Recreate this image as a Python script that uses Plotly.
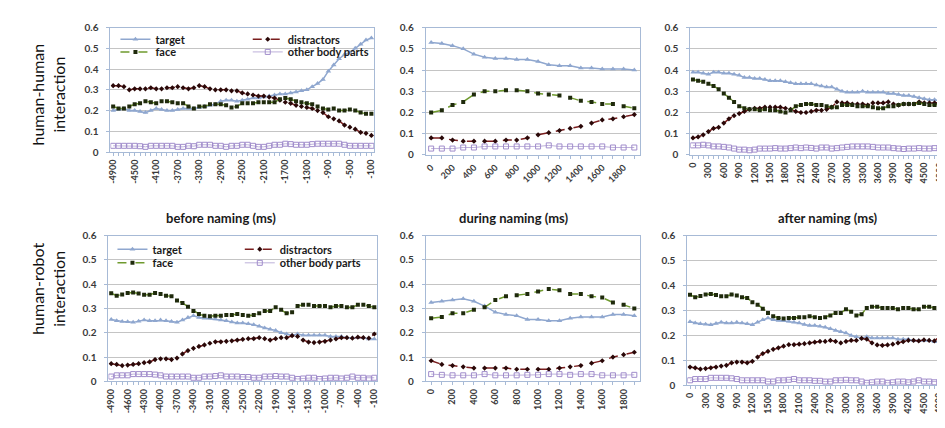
import plotly.graph_objects as go

W, H = 945, 428
FONT = "Lato, Open Sans, sans-serif"

# ---------------- categories (ms) ----------------
before_ms = list(range(-4900, 0, 100))   # 49 categories
during_ms = list(range(0, 2000, 100))    # 20 categories
after_ms = list(range(0, 4900, 100))     # 49 categories

before_ticks_hh = [-4900, -4500, -4100, -3700, -3300, -2900, -2500, -2100, -1700, -1300, -900, -500, -100]
before_ticks_hr = [-4900, -4600, -4300, -4000, -3700, -3400, -3100, -2800, -2500, -2200, -1900, -1600, -1300, -1000, -700, -400, -100]
during_ticks = [0, 200, 400, 600, 800, 1000, 1200, 1400, 1600, 1800]
after_ticks = [0, 300, 600, 900, 1200, 1500, 1800, 2100, 2400, 2700, 3000, 3300, 3600, 3900, 4200, 4500, 4800]

series_names = ["target", "distractors", "face", "other body parts"]

# ---------------- human-human : before naming ----------------
hh_before_target = [0.20, 0.205, 0.21, 0.20, 0.20, 0.195, 0.19, 0.20, 0.21, 0.205,
                    0.20, 0.20, 0.205, 0.21, 0.21, 0.21, 0.215, 0.22, 0.225, 0.23,
                    0.245, 0.25, 0.25, 0.245, 0.25, 0.255, 0.26, 0.26, 0.265, 0.27,
                    0.275, 0.28, 0.28, 0.285, 0.29, 0.295, 0.30, 0.315, 0.33, 0.35,
                    0.39, 0.42, 0.45, 0.47, 0.48, 0.50, 0.52, 0.54, 0.55]
hh_before_distractors = [0.32, 0.32, 0.315, 0.30, 0.305, 0.305, 0.305, 0.31, 0.305, 0.305,
                         0.31, 0.31, 0.315, 0.31, 0.305, 0.31, 0.32, 0.315, 0.305, 0.30,
                         0.30, 0.30, 0.295, 0.295, 0.285, 0.28, 0.275, 0.27, 0.27, 0.265,
                         0.26, 0.25, 0.24, 0.235, 0.225, 0.22, 0.215, 0.21, 0.20, 0.19,
                         0.17, 0.16, 0.15, 0.13, 0.12, 0.11, 0.095, 0.09, 0.08]
hh_before_face = [0.22, 0.21, 0.21, 0.22, 0.23, 0.235, 0.245, 0.24, 0.235, 0.245,
                  0.245, 0.24, 0.235, 0.235, 0.22, 0.21, 0.22, 0.22, 0.23, 0.23,
                  0.23, 0.225, 0.215, 0.22, 0.235, 0.235, 0.235, 0.24, 0.24, 0.24,
                  0.24, 0.255, 0.26, 0.255, 0.245, 0.24, 0.235, 0.23, 0.22, 0.21,
                  0.205, 0.21, 0.20, 0.20, 0.205, 0.20, 0.19, 0.185, 0.185]
hh_before_other = [0.03, 0.03, 0.03, 0.03, 0.03, 0.028, 0.025, 0.03, 0.03, 0.03,
                   0.03, 0.03, 0.025, 0.025, 0.03, 0.028, 0.035, 0.035, 0.035, 0.03,
                   0.03, 0.025, 0.03, 0.03, 0.035, 0.035, 0.03, 0.025, 0.025, 0.03,
                   0.035, 0.035, 0.04, 0.038, 0.035, 0.035, 0.035, 0.038, 0.04, 0.04,
                   0.04, 0.04, 0.04, 0.035, 0.03, 0.03, 0.03, 0.03, 0.03]

# ---------------- human-human : during naming ----------------
hh_during_target = [0.53, 0.525, 0.515, 0.50, 0.475, 0.46, 0.455, 0.455, 0.45, 0.45,
                    0.44, 0.425, 0.42, 0.42, 0.41, 0.41, 0.405, 0.405, 0.405, 0.40]
hh_during_distractors = [0.08, 0.08, 0.07, 0.065, 0.065, 0.065, 0.065, 0.07, 0.07, 0.08,
                         0.095, 0.105, 0.115, 0.125, 0.135, 0.15, 0.165, 0.17, 0.18, 0.19]
hh_during_face = [0.20, 0.21, 0.235, 0.25, 0.285, 0.30, 0.30, 0.305, 0.305, 0.30,
                  0.29, 0.285, 0.28, 0.27, 0.255, 0.25, 0.24, 0.24, 0.23, 0.22]
hh_during_other = [0.03, 0.03, 0.03, 0.035, 0.035, 0.04, 0.04, 0.04, 0.04, 0.04,
                   0.04, 0.045, 0.04, 0.04, 0.04, 0.04, 0.04, 0.035, 0.035, 0.035]

# ---------------- human-human : after naming ----------------
hh_after_target = [0.39, 0.39, 0.385, 0.38, 0.39, 0.39, 0.385, 0.385, 0.38, 0.375,
                   0.365, 0.365, 0.36, 0.36, 0.355, 0.35, 0.35, 0.35, 0.345, 0.34,
                   0.335, 0.335, 0.335, 0.335, 0.33, 0.325, 0.32, 0.32, 0.31, 0.30,
                   0.295, 0.295, 0.295, 0.30, 0.295, 0.295, 0.295, 0.295, 0.29, 0.29,
                   0.285, 0.28, 0.28, 0.275, 0.27, 0.265, 0.26, 0.26, 0.255]
hh_after_distractors = [0.08, 0.085, 0.095, 0.11, 0.125, 0.13, 0.15, 0.17, 0.185, 0.195,
                        0.205, 0.215, 0.22, 0.22, 0.225, 0.225, 0.225, 0.225, 0.22, 0.215,
                        0.205, 0.20, 0.20, 0.205, 0.21, 0.21, 0.215, 0.225, 0.25, 0.245,
                        0.245, 0.24, 0.24, 0.24, 0.235, 0.245, 0.245, 0.245, 0.25, 0.24,
                        0.235, 0.24, 0.24, 0.24, 0.25, 0.245, 0.245, 0.245, 0.245]
hh_after_face = [0.355, 0.35, 0.345, 0.335, 0.325, 0.31, 0.29, 0.27, 0.25, 0.23,
                 0.22, 0.215, 0.215, 0.21, 0.215, 0.21, 0.21, 0.205, 0.20, 0.21,
                 0.23, 0.235, 0.24, 0.24, 0.235, 0.235, 0.23, 0.225, 0.225, 0.235,
                 0.235, 0.235, 0.23, 0.23, 0.23, 0.225, 0.22, 0.22, 0.23, 0.23,
                 0.235, 0.24, 0.24, 0.24, 0.245, 0.24, 0.235, 0.235, 0.24]
hh_after_other = [0.045, 0.045, 0.048, 0.045, 0.04, 0.04, 0.038, 0.035, 0.03, 0.025,
                  0.025, 0.022, 0.025, 0.03, 0.03, 0.03, 0.032, 0.03, 0.03, 0.032,
                  0.035, 0.032, 0.035, 0.033, 0.03, 0.035, 0.035, 0.03, 0.032, 0.035,
                  0.038, 0.04, 0.04, 0.04, 0.04, 0.038, 0.035, 0.035, 0.035, 0.032,
                  0.03, 0.028, 0.03, 0.03, 0.032, 0.03, 0.03, 0.032, 0.03]

# ---------------- human-robot : before naming ----------------
hr_before_target = [0.255, 0.25, 0.247, 0.245, 0.243, 0.248, 0.253, 0.25, 0.25, 0.253,
                    0.25, 0.247, 0.243, 0.253, 0.263, 0.27, 0.263, 0.26, 0.26, 0.257,
                    0.253, 0.25, 0.244, 0.24, 0.24, 0.237, 0.233, 0.227, 0.22, 0.215,
                    0.21, 0.20, 0.195, 0.19, 0.195, 0.19, 0.19, 0.19, 0.19, 0.19,
                    0.185, 0.185, 0.185, 0.18, 0.18, 0.18, 0.18, 0.175, 0.175]
hr_before_distractors = [0.073, 0.07, 0.065, 0.067, 0.07, 0.073, 0.077, 0.08, 0.09, 0.093,
                         0.093, 0.09, 0.096, 0.113, 0.127, 0.136, 0.144, 0.15, 0.157, 0.163,
                         0.163, 0.165, 0.167, 0.17, 0.173, 0.176, 0.176, 0.18, 0.176, 0.17,
                         0.176, 0.18, 0.18, 0.188, 0.185, 0.17, 0.162, 0.16, 0.162, 0.165,
                         0.17, 0.175, 0.18, 0.18, 0.178, 0.182, 0.18, 0.178, 0.195]
hr_before_face = [0.363, 0.353, 0.358, 0.364, 0.366, 0.362, 0.357, 0.357, 0.364, 0.36,
                  0.353, 0.35, 0.333, 0.323, 0.307, 0.29, 0.277, 0.27, 0.268, 0.27,
                  0.27, 0.273, 0.273, 0.277, 0.273, 0.27, 0.273, 0.28, 0.29, 0.29,
                  0.305, 0.295, 0.28, 0.285, 0.31, 0.315, 0.315, 0.31, 0.31, 0.31,
                  0.305, 0.31, 0.31, 0.305, 0.305, 0.315, 0.315, 0.31, 0.305]
hr_before_other = [0.02, 0.025, 0.025, 0.025, 0.03, 0.03, 0.03, 0.03, 0.028, 0.025,
                   0.02, 0.02, 0.02, 0.02, 0.02, 0.015, 0.015, 0.02, 0.02, 0.022,
                   0.025, 0.02, 0.02, 0.02, 0.018, 0.018, 0.015, 0.015, 0.02, 0.02,
                   0.022, 0.02, 0.02, 0.015, 0.01, 0.012, 0.015, 0.015, 0.01, 0.012,
                   0.015, 0.015, 0.012, 0.015, 0.02, 0.015, 0.015, 0.012, 0.015]

# ---------------- human-robot : during naming ----------------
hr_during_target = [0.325, 0.33, 0.335, 0.34, 0.33, 0.31, 0.285, 0.275, 0.27, 0.255,
                    0.255, 0.25, 0.25, 0.26, 0.265, 0.265, 0.265, 0.275, 0.275, 0.27]
hr_during_distractors = [0.085, 0.07, 0.065, 0.06, 0.055, 0.055, 0.055, 0.055, 0.05, 0.05,
                         0.05, 0.05, 0.055, 0.06, 0.065, 0.075, 0.085, 0.10, 0.11, 0.12]
hr_during_face = [0.26, 0.265, 0.28, 0.28, 0.295, 0.305, 0.335, 0.35, 0.355, 0.36,
                  0.37, 0.38, 0.375, 0.36, 0.36, 0.35, 0.345, 0.325, 0.315, 0.30]
hr_during_other = [0.03, 0.027, 0.025, 0.025, 0.025, 0.03, 0.025, 0.025, 0.025, 0.027,
                   0.027, 0.03, 0.03, 0.027, 0.03, 0.03, 0.025, 0.025, 0.025, 0.027]

# ---------------- human-robot : after naming ----------------
hr_after_target = [0.255, 0.25, 0.247, 0.245, 0.243, 0.248, 0.253, 0.25, 0.25, 0.253,
                   0.25, 0.247, 0.243, 0.253, 0.263, 0.27, 0.263, 0.26, 0.26, 0.257,
                   0.253, 0.25, 0.244, 0.24, 0.24, 0.237, 0.233, 0.227, 0.22, 0.215,
                   0.21, 0.20, 0.195, 0.19, 0.195, 0.19, 0.19, 0.19, 0.19, 0.19,
                   0.185, 0.185, 0.185, 0.18, 0.18, 0.18, 0.18, 0.175, 0.175]
hr_after_distractors = [0.073, 0.07, 0.065, 0.067, 0.07, 0.073, 0.077, 0.08, 0.09, 0.093,
                        0.093, 0.09, 0.096, 0.113, 0.127, 0.136, 0.144, 0.15, 0.157, 0.163,
                        0.163, 0.165, 0.167, 0.17, 0.173, 0.176, 0.176, 0.18, 0.176, 0.17,
                        0.176, 0.18, 0.18, 0.188, 0.185, 0.17, 0.162, 0.16, 0.162, 0.165,
                        0.17, 0.175, 0.18, 0.18, 0.178, 0.182, 0.18, 0.178, 0.195]
hr_after_face = [0.363, 0.353, 0.358, 0.364, 0.366, 0.362, 0.357, 0.357, 0.364, 0.36,
                 0.353, 0.35, 0.333, 0.323, 0.307, 0.29, 0.277, 0.27, 0.268, 0.27,
                 0.27, 0.273, 0.273, 0.277, 0.273, 0.27, 0.273, 0.28, 0.29, 0.29,
                 0.305, 0.295, 0.28, 0.285, 0.31, 0.315, 0.315, 0.31, 0.31, 0.31,
                 0.305, 0.31, 0.31, 0.305, 0.305, 0.315, 0.315, 0.31, 0.305]
hr_after_other = [0.02, 0.025, 0.025, 0.025, 0.03, 0.03, 0.03, 0.03, 0.028, 0.025,
                  0.02, 0.02, 0.02, 0.02, 0.02, 0.015, 0.015, 0.02, 0.02, 0.022,
                  0.025, 0.02, 0.02, 0.02, 0.018, 0.018, 0.015, 0.015, 0.02, 0.02,
                  0.022, 0.02, 0.02, 0.015, 0.01, 0.012, 0.015, 0.015, 0.01, 0.012,
                  0.015, 0.015, 0.012, 0.015, 0.02, 0.015, 0.015, 0.012, 0.015]

# ---------------- styling ----------------
STYLE = {
    "target": dict(line=dict(color="#8FA7CF", width=1.5, dash="solid"),
                   marker=dict(symbol="triangle-up", size=5, color="#8FA7CF")),
    "distractors": dict(line=dict(color="#7A1E1E", width=1.5, dash="dash"),
                        marker=dict(symbol="diamond", size=4, color="#2A0808")),
    "face": dict(line=dict(color="#6F9A2E", width=1.5, dash="dash"),
                 marker=dict(symbol="square", size=4, color="#1F2A0C")),
    "other body parts": dict(line=dict(color="#BDB0DA", width=1, dash="solid"),
                             marker=dict(symbol="square-open", size=5, color="#A08CCB",
                                         line=dict(width=1))),
}

# one single-entry legend per key so rows can sit as close as in the original
# (left px of legend box, vertical centre px)
LEGEND_POS = {
    1: {"target": ("legend", 105, 26), "distractors": ("legend2", 238, 26),
        "face": ("legend3", 105, 39), "other body parts": ("legend4", 238, 39)},
    4: {"target": ("legend5", 102, 242), "distractors": ("legend6", 230, 242),
        "face": ("legend7", 102, 256), "other body parts": ("legend8", 230, 256)},
}


def px_x(p):
    return p / W


def px_y(p):
    return 1 - p / H


panels = [
    dict(x=before_ms, ys=[hh_before_target, hh_before_distractors, hh_before_face, hh_before_other],
         box=(100, 365, 14, 142), rng=[-4950, -50], ticks=before_ticks_hh, angle=-90),
    dict(x=during_ms, ys=[hh_during_target, hh_during_distractors, hh_during_face, hh_during_other],
         box=(417, 632, 14, 145), rng=[-50, 1950], ticks=during_ticks, angle=-45),
    dict(x=after_ms, ys=[hh_after_target, hh_after_distractors, hh_after_face, hh_after_other],
         box=(683, 945, 14, 145), rng=[-50, 5020], ticks=after_ticks, angle=-90),
    dict(x=before_ms, ys=[hr_before_target, hr_before_distractors, hr_before_face, hr_before_other],
         box=(98, 368, 228, 378), rng=[-4950, -50], ticks=before_ticks_hr, angle=-90),
    dict(x=during_ms, ys=[hr_during_target, hr_during_distractors, hr_during_face, hr_during_other],
         box=(417, 632, 228, 378), rng=[-50, 1950], ticks=during_ticks, angle=-90),
    dict(x=after_ms, ys=[hr_after_target, hr_after_distractors, hr_after_face, hr_after_other],
         box=(680, 945, 228, 382), rng=[-50, 5020], ticks=after_ticks, angle=-90),
]

fig = go.Figure()
layout = {}
AX_LINE = "#A7BAD6"
legend_common = dict(xanchor="left", yanchor="middle", bgcolor="rgba(0,0,0,0)",
                     borderwidth=0, tracegroupgap=0, itemwidth=30,
                     font=dict(family=FONT, size=11, color="#1A1A1A", weight="bold"))

for k, p in enumerate(panels, start=1):
    sfx = "" if k == 1 else str(k)
    x0, x1, y0, y1 = p["box"]
    layout["xaxis" + sfx] = dict(
        domain=[px_x(x0), min(px_x(x1), 1.0)], range=p["rng"], anchor="y" + sfx,
        showgrid=False, zeroline=False, showline=True, linecolor=AX_LINE, linewidth=1,
        mirror=True, ticks="outside", ticklen=3, tickcolor=AX_LINE,
        tickvals=p["ticks"], ticktext=[str(t) for t in p["ticks"]], tickangle=p["angle"],
        ticklabeloverflow="allow",
        tickfont=dict(family=FONT, size=9, color="#3A3A3A", weight="bold"),
        minor=dict(ticks="outside", ticklen=3, tickcolor=AX_LINE, tickvals=p["x"]),
    )
    layout["yaxis" + sfx] = dict(
        domain=[px_y(y1), px_y(y0)], range=[0, 0.6], anchor="x" + sfx,
        tickvals=[0, 0.1, 0.2, 0.3, 0.4, 0.5, 0.6],
        ticktext=["0", "0.1", "0.2", "0.3", "0.4", "0.5", "0.6"],
        showgrid=True, gridcolor="#C4C4C4", gridwidth=1, zeroline=False,
        showline=True, linecolor=AX_LINE, linewidth=1, mirror=True,
        ticks="outside", ticklen=3, tickcolor=AX_LINE, ticklabelstandoff=6,
        tickfont=dict(family=FONT, size=10, color="#3A3A3A", weight="bold"),
    )
    for name, yv in zip(series_names, p["ys"]):
        st = STYLE[name]
        kw = dict(showlegend=False)
        if k in LEGEND_POS:
            leg, lx, ly = LEGEND_POS[k][name]
            kw = dict(showlegend=True, legend=leg)
            layout[leg] = dict(x=px_x(lx), y=px_y(ly), **legend_common)
        fig.add_trace(go.Scatter(
            x=p["x"], y=yv, name=name, mode="lines+markers",
            xaxis="x" + sfx, yaxis="y" + sfx,
            line=st["line"], marker=st["marker"], hoverinfo="skip", **kw))

titles = [("before naming (ms)", 211), ("during naming (ms)", 506), ("after naming (ms)", 821)]
annotations = []
for text, cx in titles:
    annotations.append(dict(text=text, x=px_x(cx), y=px_y(210), xref="paper", yref="paper",
                            xanchor="center", yanchor="middle", showarrow=False,
                            font=dict(family=FONT, size=13, color="#1A1A1A", weight="bold")))
row_labels = [("human-human<br>interaction", 83), ("human-robot<br>interaction", 283)]
for text, cy in row_labels:
    annotations.append(dict(text=text, x=px_x(37), y=px_y(cy), xref="paper", yref="paper",
                            xanchor="center", yanchor="middle", showarrow=False, textangle=-90,
                            font=dict(family=FONT, size=16, color="#111111")))

fig.update_layout(
    width=W, height=H, margin=dict(l=0, r=0, t=0, b=0),
    paper_bgcolor="white", plot_bgcolor="white",
    annotations=annotations, **layout)

fig.write_html("out.html")
